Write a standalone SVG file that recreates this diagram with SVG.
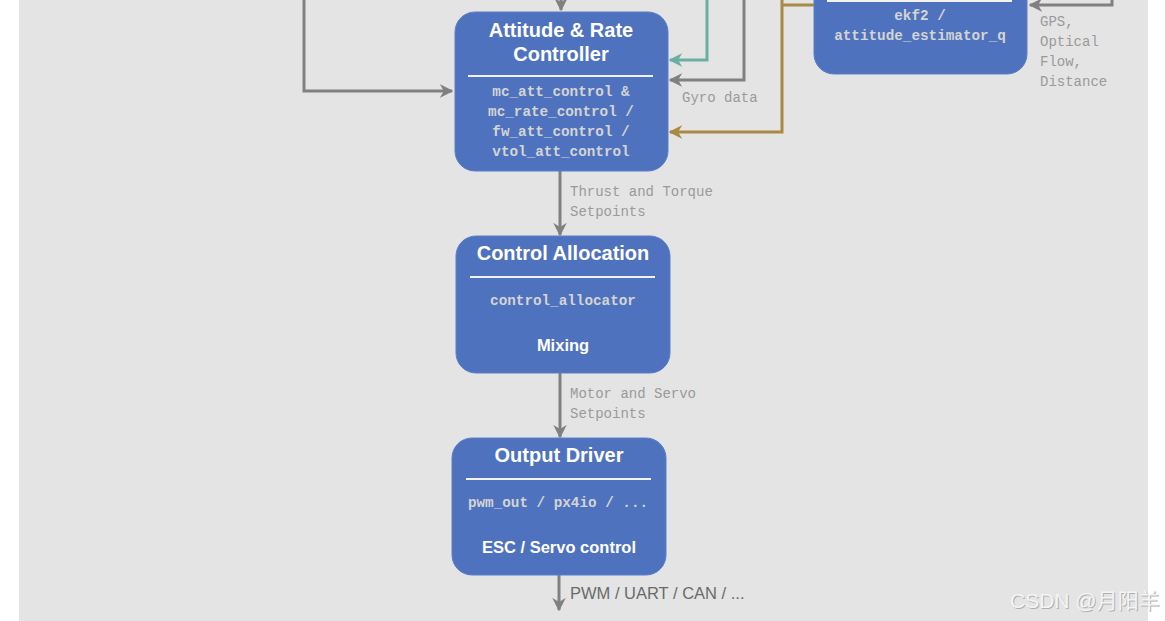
<svg xmlns="http://www.w3.org/2000/svg" width="1165" height="621" viewBox="0 0 1165 621">
<style>
.node{fill:#4e72bd;stroke:#5b7fc8;stroke-width:1}
.sep{stroke:#f2f2f2;stroke-width:2}
.title{font-family:"Liberation Sans",Arial,sans-serif;font-weight:bold;font-size:20px;fill:#ffffff;text-anchor:middle}
.sub{font-family:"Liberation Sans",Arial,sans-serif;font-weight:bold;font-size:16.5px;fill:#ffffff;text-anchor:middle}
.mod{font-family:"Liberation Mono","Courier New",monospace;font-weight:bold;font-size:14.3px;fill:#d4d4d4;text-anchor:middle}
.lbl{font-family:"Liberation Mono","Courier New",monospace;font-size:14px;fill:#9a9a9a}
.c{fill:none;stroke-width:3}
.gray{stroke:#808080}
.teal{stroke:#6aafa3}
.gold{stroke:#a98a45}
</style>
<defs>
<marker id="ag" viewBox="0 0 10 10" refX="9" refY="5" markerWidth="4.5" markerHeight="4.5" orient="auto" markerUnits="strokeWidth"><path d="M0,0 L10,5 L0,10 L3,5 z" fill="#808080"/></marker>
<marker id="at" viewBox="0 0 10 10" refX="9" refY="5" markerWidth="4.5" markerHeight="4.5" orient="auto" markerUnits="strokeWidth"><path d="M0,0 L10,5 L0,10 L3,5 z" fill="#6aafa3"/></marker>
<marker id="ao" viewBox="0 0 10 10" refX="9" refY="5" markerWidth="4.5" markerHeight="4.5" orient="auto" markerUnits="strokeWidth"><path d="M0,0 L10,5 L0,10 L3,5 z" fill="#a98a45"/></marker>
</defs>
<rect x="0" y="0" width="1165" height="621" fill="#ffffff"/>
<rect x="19" y="0" width="1129" height="621" fill="#e4e4e4"/>

<g id="connectors">
<path class="c gray" d="M561,-2 V10" marker-end="url(#ag)"/>
<path class="c gray" d="M304,-2 V91 H452" marker-end="url(#ag)"/>
<path class="c teal" d="M707,-2 V60 H670" marker-end="url(#at)"/>
<path class="c gray" d="M744,-2 V80 H670" marker-end="url(#ag)"/>
<path class="c gold" d="M782,-2 V132 H670" marker-end="url(#ao)"/>
<path class="c gold" d="M782,5 H814"/>
<path class="c gray" d="M1112,-2 V5 H1030" marker-end="url(#ag)"/>
<path class="c gray" d="M560,171 V235" marker-end="url(#ag)"/>
<path class="c gray" d="M560,373 V437" marker-end="url(#ag)"/>
<path class="c gray" d="M559,575 V610" marker-end="url(#ag)"/>
<text class="lbl" x="682" y="102">Gyro data</text>
<text class="lbl" x="1040" y="26">GPS,</text>
<text class="lbl" x="1040" y="46">Optical</text>
<text class="lbl" x="1040" y="66">Flow,</text>
<text class="lbl" x="1040" y="86">Distance</text>
<text class="lbl" x="570" y="196">Thrust and Torque</text>
<text class="lbl" x="570" y="216">Setpoints</text>
<text class="lbl" x="570" y="398">Motor and Servo</text>
<text class="lbl" x="570" y="418">Setpoints</text>
<text x="570" y="599" font-family="Liberation Sans,Arial,sans-serif" font-size="16.5" fill="#6a6a6a">PWM / UART / CAN / ...</text>
</g>

<g id="estimator">
<rect class="node" x="814" y="-40" width="213" height="114" rx="20"/>
<line class="sep" x1="827" y1="1" x2="1012" y2="1"/>
<text class="mod" x="920" y="20">ekf2 /</text>
<text class="mod" x="920" y="40">attitude_estimator_q</text>
</g>

<g id="attitude-rate-controller">
<rect class="node" x="455" y="12" width="213" height="159" rx="20"/>
<text class="title" x="561" y="37">Attitude &amp; Rate</text>
<text class="title" x="561" y="61">Controller</text>
<line class="sep" x1="468" y1="76" x2="653" y2="76"/>
<text class="mod" x="561" y="96">mc_att_control &amp;</text>
<text class="mod" x="561" y="116">mc_rate_control /</text>
<text class="mod" x="561" y="136">fw_att_control /</text>
<text class="mod" x="561" y="156">vtol_att_control</text>
</g>

<g id="control-allocation">
<rect class="node" x="456" y="236" width="214" height="137" rx="20"/>
<text class="title" x="563" y="260">Control Allocation</text>
<line class="sep" x1="470" y1="277" x2="655" y2="277"/>
<text class="mod" x="563" y="305">control_allocator</text>
<text class="sub" x="563" y="351">Mixing</text>
</g>

<g id="output-driver">
<rect class="node" x="452" y="438" width="214" height="137" rx="20"/>
<text class="title" x="559" y="462">Output Driver</text>
<line class="sep" x1="466" y1="479" x2="651" y2="479"/>
<text class="mod" x="558" y="507">pwm_out / px4io / ...</text>
<text class="sub" x="559" y="553">ESC / Servo control</text>
</g>

<g id="watermark">
<text x="1011" y="609" font-family="Liberation Sans,'Noto Sans CJK SC',sans-serif" font-size="21" fill="#b0b0b0">CSDN @月阳羊</text>
<text x="1010" y="608" font-family="Liberation Sans,'Noto Sans CJK SC',sans-serif" font-size="21" fill="#f4f4f4">CSDN @月阳羊</text>
</g>
</svg>
